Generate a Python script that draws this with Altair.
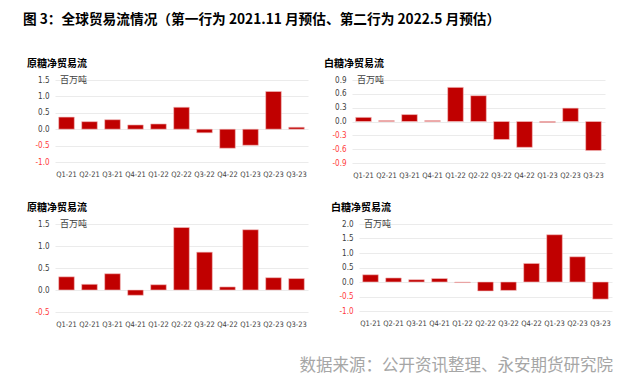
import altair as alt
import pandas as pd

quarters = ["Q1-21", "Q2-21", "Q3-21", "Q4-21", "Q1-22", "Q2-22",
            "Q3-22", "Q4-22", "Q1-23", "Q2-23", "Q3-23"]
raw_2021 = [0.37, 0.23, 0.29, 0.13, 0.16, 0.67, -0.11, -0.58, -0.49, 1.15, 0.06]
white_2021 = [0.09, 0.02, 0.15, 0.02, 0.74, 0.56, -0.39, -0.56, -0.02, 0.29, -0.63]
raw_2022 = [0.30, 0.13, 0.37, -0.12, 0.12, 1.42, 0.86, 0.07, 1.37, 0.28, 0.26]
white_2022 = [0.25, 0.14, 0.08, 0.12, -0.02, -0.31, -0.29, 0.64, 1.63, 0.87, -0.59]

panel_titles = ["原糖净贸易流", "白糖净贸易流", "原糖净贸易流", "白糖净贸易流"]
unit = "百万吨"
main_title = "图 3：全球贸易流情况（第一行为 2021.11 月预估、第二行为 2022.5 月预估）"
source = "数据来源：公开资讯整理、永安期货研究院"

FONT = "Noto Sans CJK SC"
LAB_FONT = "'Liberation Sans Narrow', 'DejaVu Sans Condensed', 'Liberation Sans', sans-serif"


def panel(values, title, domain, ticks, w, h):
    df = pd.DataFrame({"q": quarters, "v": values})
    bars = alt.Chart(df).mark_bar(color="#C00000", stroke="#F4C2C2", strokeWidth=0.6).encode(
        x=alt.X("q:N", sort=quarters, title=None,
                scale=alt.Scale(paddingInner=0.32, paddingOuter=0.16),
                axis=alt.Axis(labelAngle=0, domain=False, ticks=False, labelFont=LAB_FONT,
                              labelFontSize=7.5, labelColor="#404040", labelPadding=8)),
        y=alt.Y("v:Q", title=None,
                scale=alt.Scale(domain=domain, nice=False, zero=True),
                axis=alt.Axis(values=ticks, domain=False, ticks=False, gridColor="#EBEBEB",
                              labelExpr="replace(format(datum.value, '.1f'), '\u2212', '-')",
                              labelFont=LAB_FONT, labelFontSize=8,
                              labelColor={"expr": "datum.value < 0 ? '#FF3B3B' : '#404040'"},
                              labelPadding=6, minExtent=22, maxExtent=22)),
    )
    unit_txt = alt.Chart(pd.DataFrame({"t": [unit]})).mark_text(
        align="left", baseline="middle", font=FONT, fontSize=9, color="#404040"
    ).encode(text="t:N", x=alt.value(5), y=alt.value(0))
    return alt.layer(bars, unit_txt).properties(
        width=w, height=h,
        title=alt.TitleParams(title, anchor="start", frame="group", font=FONT, fontSize=10,
                              fontWeight="bold", color="#000000", dx=-28, offset=7),
    )


p1 = panel(raw_2021, panel_titles[0], [-1.0, 1.5], [-1.0, -0.5, 0.0, 0.5, 1.0, 1.5], 253, 82)
p2 = panel(white_2021, panel_titles[1], [-0.9, 0.9], [-0.9, -0.6, -0.3, 0.0, 0.3, 0.6, 0.9], 253, 83)
p3 = panel(raw_2022, panel_titles[2], [-0.5, 1.5], [-0.5, 0.0, 0.5, 1.0, 1.5], 253, 88)
p4 = panel(white_2022, panel_titles[3], [-1.0, 2.0], [-1.0, -0.5, 0.0, 0.5, 1.0, 1.5, 2.0], 253, 87)

src = alt.Chart(pd.DataFrame({"t": [source]})).mark_text(
    align="right", baseline="middle", font=FONT, fontSize=16.5, color="#A6A6A6"
).encode(text="t:N", x=alt.value(558), y=alt.value(14)).properties(width=558, height=26)

chart = alt.vconcat(
    alt.hconcat(p1, p2, spacing=16),
    alt.hconcat(p3, p4, spacing=23),
    src,
    spacing=24,
).properties(
    title=alt.TitleParams(main_title, anchor="start", frame="bounds", font=FONT, fontSize=13.7,
                          fontWeight="bold", color="#000000", offset=32, dx=-4),
    padding={"left": 15, "top": 5, "right": 5, "bottom": 5},
    background="white",
).configure_view(strokeWidth=0)

chart.save("out.html", embed_options={"renderer": "svg", "actions": False})
